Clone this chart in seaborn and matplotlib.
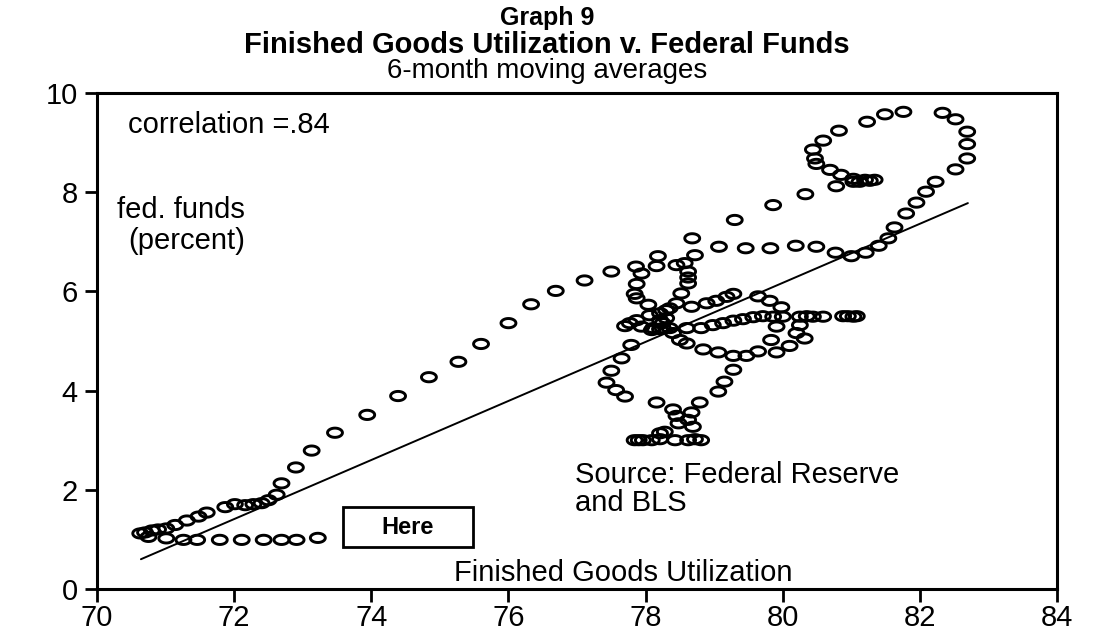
import matplotlib
matplotlib.use("Agg")

import numpy as np
import pandas as pd
import matplotlib.pyplot as plt
from matplotlib.path import Path
from matplotlib.patches import Rectangle
import seaborn as sns

# finished goods utilization (x) and fed funds rate (y), 6-month moving averages
utilization = [
    70.63, 70.70, 70.75, 70.80, 70.89, 71.01, 71.14, 71.31, 71.48, 71.60,
    71.87, 72.01, 72.16, 72.28, 72.40, 72.50, 72.62, 72.69, 72.90, 73.13,
    73.47, 73.94, 74.39, 74.84, 75.27, 75.60, 76.00, 76.33, 76.69, 77.11,
    77.50, 77.86, 78.18, 78.68, 79.30, 79.86, 80.33, 80.78, 81.03, 81.12,
    81.20, 81.27, 81.34, 81.03, 80.85, 80.69, 80.49, 80.47, 80.44, 80.59,
    80.82, 81.23, 81.49, 81.76, 82.33, 82.52, 82.69, 82.69, 82.69, 82.52,
    82.23, 82.09, 81.95, 81.80, 81.63, 81.54, 81.40, 81.21, 81.00, 80.77,
    80.49, 80.19, 79.82, 79.46, 79.07, 78.72,
    78.57, 78.45, 78.62, 78.62, 78.62, 78.52, 78.16, 77.94, 77.87, 77.84,
    77.87, 78.04, 78.45, 78.67, 78.89, 79.03, 79.18, 79.28, 79.64, 79.81,
    79.98, 80.00, 79.91, 80.25, 80.25, 80.35, 80.44, 80.59, 80.88, 80.95,
    81.03, 81.08, 80.20, 80.32, 80.10, 79.91, 79.83, 79.64, 79.47, 79.28,
    79.06, 78.84, 78.60, 78.50, 78.40, 78.25, 78.35, 78.60, 78.81, 78.98,
    79.13, 79.28, 79.42, 79.57, 79.71, 79.86,
    77.70, 77.77, 77.87, 77.94, 78.06, 78.21, 78.30, 78.35, 78.11, 78.25,
    78.21, 78.30, 78.09, 78.21,
    77.79, 77.65, 77.50, 77.43, 77.57, 77.70, 78.16, 78.40, 78.67, 78.45,
    78.62, 78.48, 78.69, 78.28, 78.21, 77.84, 77.90, 77.96, 78.09, 78.21,
    78.43, 78.62, 78.72, 78.81, 78.79, 79.06, 79.15, 79.28,
    71.01, 71.26, 71.46, 71.79, 72.11, 72.43, 72.69, 72.91, 73.22,
]
fed_funds = [
    1.12, 1.14, 1.05, 1.18, 1.20, 1.22, 1.29, 1.38, 1.46, 1.54,
    1.65, 1.71, 1.69, 1.71, 1.73, 1.79, 1.90, 2.13, 2.45, 2.79,
    3.15, 3.51, 3.89, 4.27, 4.58, 4.94, 5.36, 5.74, 6.01, 6.22,
    6.40, 6.50, 6.71, 7.07, 7.44, 7.74, 7.96, 8.12, 8.21, 8.21,
    8.25, 8.23, 8.25, 8.27, 8.35, 8.45, 8.57, 8.68, 8.86, 9.04,
    9.24, 9.42, 9.57, 9.62, 9.60, 9.47, 9.22, 8.97, 8.68, 8.46,
    8.21, 8.01, 7.79, 7.57, 7.29, 7.07, 6.92, 6.78, 6.71, 6.78,
    6.90, 6.92, 6.87, 6.87, 6.90, 6.73,
    6.57, 6.53, 6.40, 6.28, 6.16, 5.96, 6.51, 6.36, 6.15, 5.95,
    5.86, 5.73, 5.76, 5.69, 5.76, 5.81, 5.89, 5.95, 5.90, 5.81,
    5.68, 5.49, 5.29, 5.32, 5.49, 5.50, 5.49, 5.49, 5.50, 5.50,
    5.49, 5.50, 5.16, 5.05, 4.90, 4.77, 5.02, 4.79, 4.70, 4.70,
    4.77, 4.83, 4.95, 5.02, 5.16, 5.26, 5.26, 5.26, 5.26, 5.32,
    5.36, 5.41, 5.44, 5.48, 5.50, 5.49,
    5.30, 5.36, 5.42, 5.29, 5.52, 5.56, 5.62, 5.66, 5.26, 5.36,
    5.42, 5.46, 5.22, 5.24,
    4.92, 4.65, 4.40, 4.16, 4.01, 3.88, 3.76, 3.62, 3.56, 3.49,
    3.41, 3.34, 3.27, 3.17, 3.14, 3.00, 3.00, 3.00, 3.00, 3.02,
    3.00, 3.00, 3.02, 3.00, 3.76, 3.98, 4.18, 4.42,
    1.02, 0.99, 0.99, 0.99, 0.99, 0.99, 0.99, 0.99, 1.03,
]

# fitted regression line end points
fit_x = [70.64, 82.70]
fit_y = [0.60, 7.78]

df = pd.DataFrame({"util": utilization, "ff": fed_funds})
fit = pd.DataFrame({"util": fit_x, "ff": fit_y})

sns.set_theme(style="white")
plt.rcParams["font.family"] = ["Liberation Sans", "DejaVu Sans"]
plt.rcParams["text.color"] = "black"

fig = plt.figure(figsize=(10.94, 6.37), dpi=100)
ax = fig.add_axes([0.0887, 0.0754, 0.8775, 0.7786])

# flattened open circle like the original plot symbol
t = np.linspace(0, 2 * np.pi, 60)
ellipse = Path(np.column_stack([np.cos(t), 0.62 * np.sin(t)]), closed=True)

sns.lineplot(data=fit, x="util", y="ff", ax=ax, color="black", lw=1.4)
sns.scatterplot(data=df, x="util", y="ff", ax=ax, marker=ellipse, s=115,
                facecolors="none", edgecolor="black", linewidth=2.1)

ax.set_xlim(70, 84)
ax.set_ylim(0, 10)
ax.set_xticks(range(70, 85, 2))
ax.set_yticks(range(0, 11, 2))
ax.set_xlabel("")
ax.set_ylabel("")
ax.tick_params(axis="both", labelsize=21, length=9, width=2, direction="out",
               color="black", labelcolor="black")
ax.tick_params(axis="x", pad=2)
ax.tick_params(axis="y", pad=5)
ax.tick_params(axis="both", left=True, bottom=True)
for sp in ax.spines.values():
    sp.set_color("black")
    sp.set_linewidth(2.2)

ax.text(70.45, 9.35, "correlation =.84", fontsize=21, va="center")
ax.text(70.29, 7.64, "fed. funds", fontsize=21, va="center")
ax.text(70.45, 7.02, "(percent)", fontsize=21, va="center")
ax.text(76.97, 2.30, "Source: Federal Reserve", fontsize=21, va="center")
ax.text(76.97, 1.73, "and BLS", fontsize=21, va="center")
ax.text(77.68, 0.32, "Finished Goods Utilization", fontsize=21,
        ha="center", va="center")

ax.add_patch(Rectangle((73.59, 0.85), 1.89, 0.80, fill=False,
                       ec="black", lw=2, zorder=3))
ax.text(74.53, 1.24, "Here", fontsize=17, fontweight="bold",
        ha="center", va="center")

fig.text(0.5, 0.972, "Graph 9", fontsize=18, fontweight="bold",
         ha="center", va="center")
fig.text(0.5, 0.929, "Finished Goods Utilization v. Federal Funds",
         fontsize=21, fontweight="bold", ha="center", va="center")
fig.text(0.5, 0.889, "6-month moving averages", fontsize=20,
         ha="center", va="center")

fig.savefig("out.png", dpi=100)
plt.close(fig)
